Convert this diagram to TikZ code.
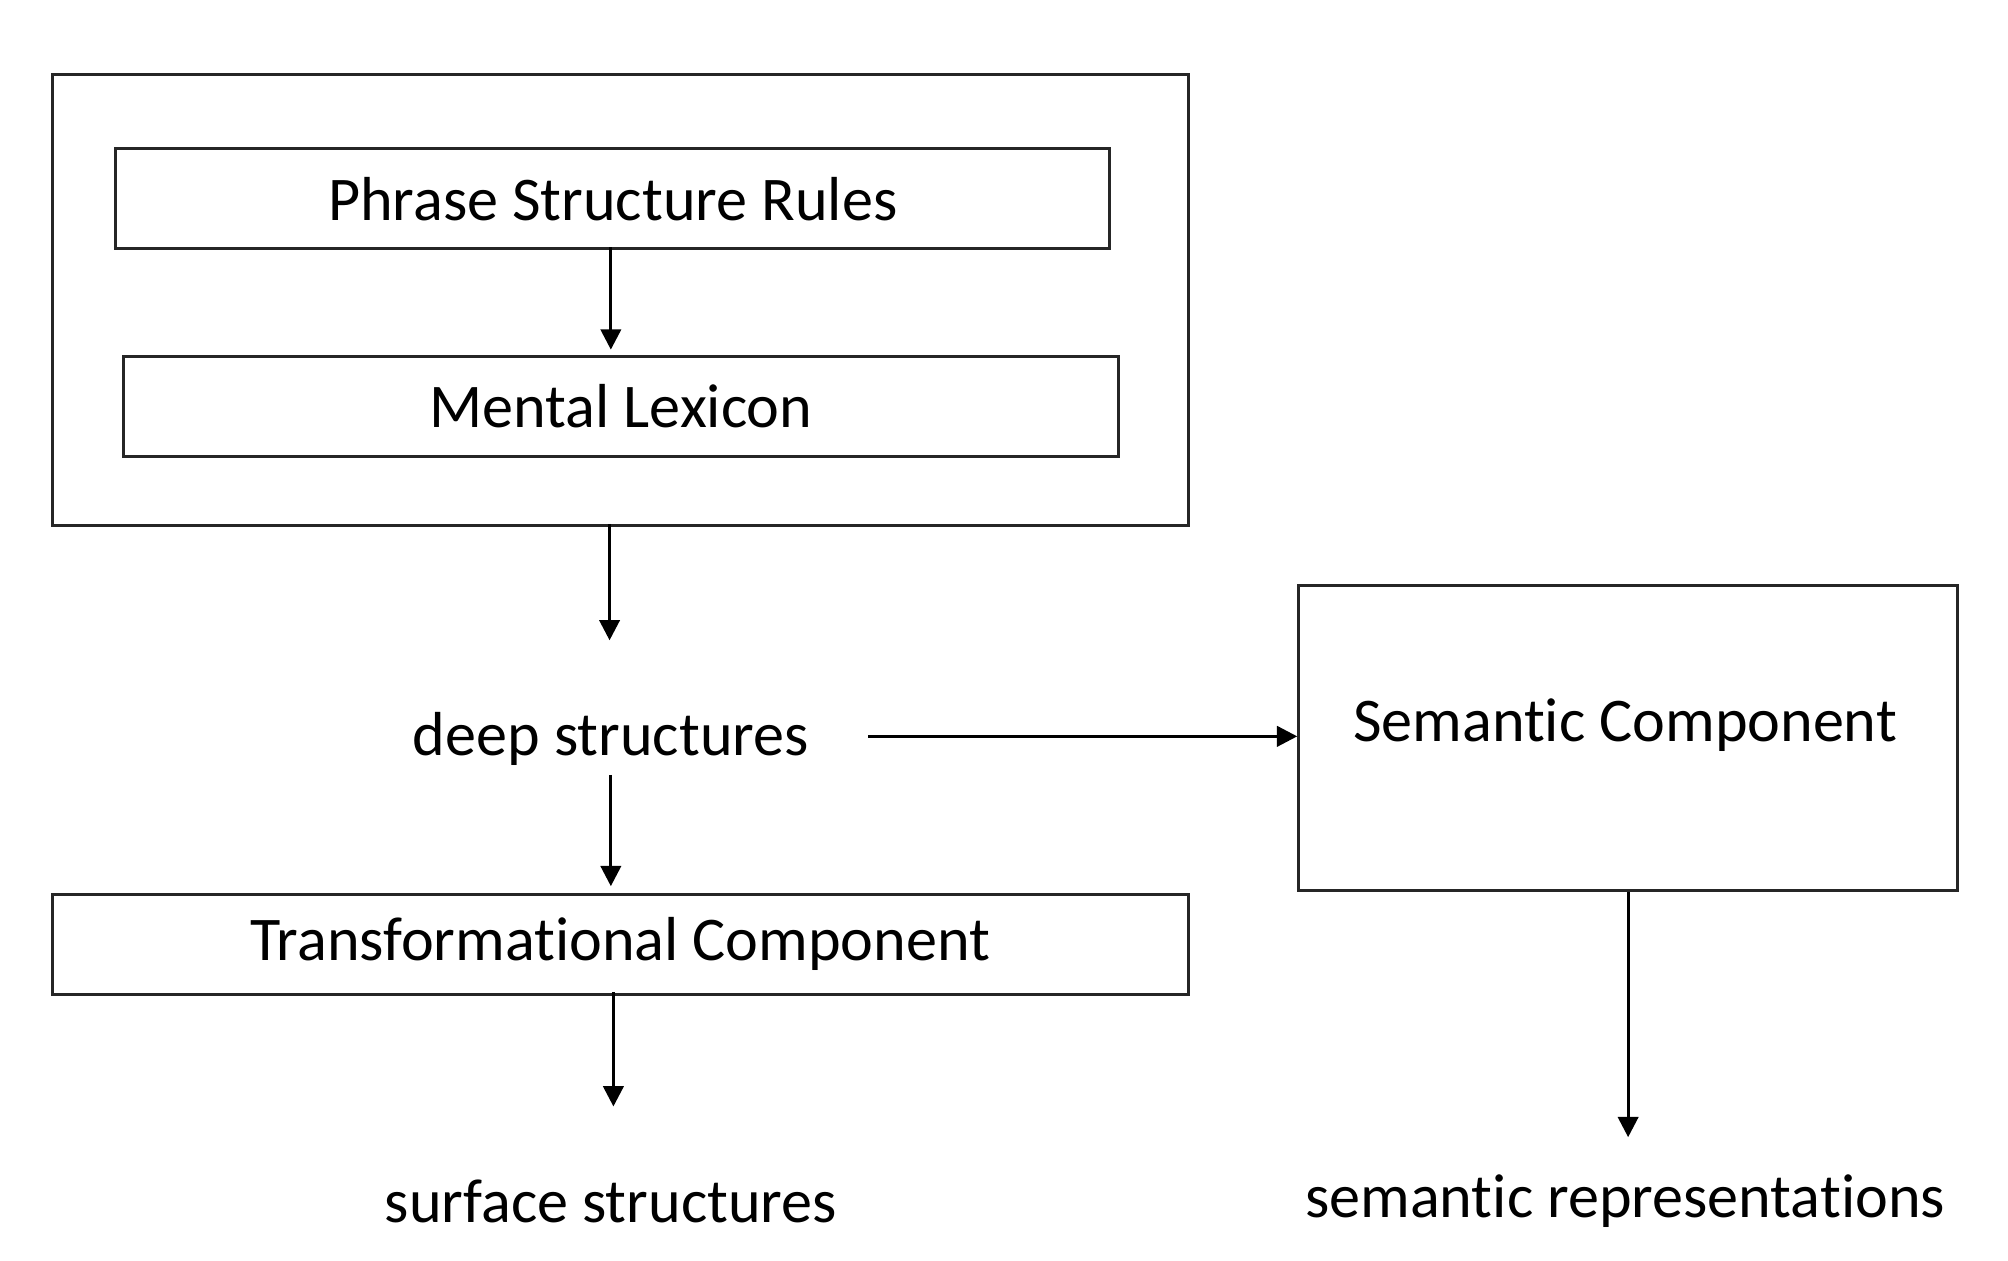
\documentclass[tikz,border=0pt]{standalone}
\usepackage{fontspec}
\setmainfont[RawFeature={-liga;-clig;-dlig;-calt;-rlig}]{Carlito}
\usetikzlibrary{arrows.meta}
\begin{document}
\begin{tikzpicture}[x=0.01cm,y=-0.01cm,
  box/.style={draw=black!85,line width=0.7pt,inner sep=0pt,anchor=north west},
  lbl/.style={font=\fontsize{13.8}{16}\selectfont,inner sep=0pt},
  arr/.style={line width=0.7pt,-{Triangle[length=4.5pt,width=4.5pt]}}]
\useasboundingbox (0,0) rectangle (1568,984);
\node[box,minimum width=8.86cm,minimum height=3.52cm] (outer) at (40,57) {};
\node[box,minimum width=7.76cm,minimum height=0.78cm] (psr) at (89,115) {};
\node[lbl] at (psr.center) {Phrase Structure Rules};
\node[box,minimum width=7.77cm,minimum height=0.78cm] (ml) at (95,277) {};
\node[lbl] at (ml.center) {Mental Lexicon};
\node[lbl] (deep) at (477,577) {deep structures};
\node[box,minimum width=8.86cm,minimum height=0.78cm] (tc) at (40,697) {};
\node[lbl] at (tc.center) {Transformational Component};
\node[lbl] (surf) at (477,938) {surface structures};
\node[box,minimum width=5.14cm,minimum height=2.38cm] (sem) at (1013,456) {};
\node[lbl] at (1269,566) {Semantic Component};
\node[lbl] (rep) at (1269,938) {semantic representations};
\coordinate (a1) at (477,273);
\draw[arr] (477,193) -- (a1);
\coordinate (a2) at (476,500);
\draw[arr] (476,409) -- (a2);
\coordinate (a3) at (477,692);
\draw[arr] (477,605) -- (a3);
\coordinate (a4) at (479,864);
\draw[arr] (479,775) -- (a4);
\draw[arr] (678,575) -- (sem.west |- 0,575);
\coordinate (a5) at (sem.south |- 0,888);
\draw[arr] (sem.south) -- (a5);
\end{tikzpicture}
\end{document}
